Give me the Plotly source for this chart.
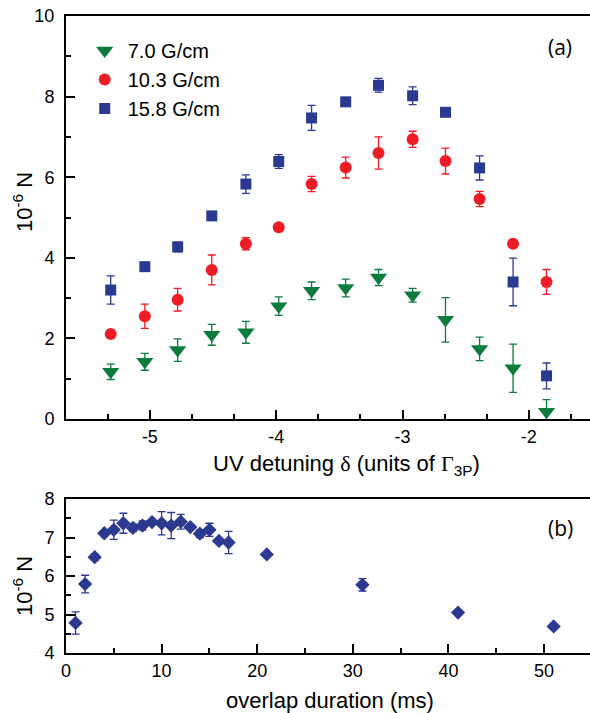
import plotly.graph_objects as go
from plotly.subplots import make_subplots

# ---------- Panel (a) data ----------
det_x = [-5.31, -5.04, -4.78, -4.51, -4.24, -3.98, -3.72, -3.45, -3.19, -2.92, -2.66, -2.39, -2.125, -1.86]

g70_y = [1.17, 1.42, 1.71, 2.09, 2.15, 2.80, 3.18, 3.25, 3.51, 3.07, 2.46, 1.74, 1.26, 0.18]
g70_e = [0.19, 0.21, 0.28, 0.26, 0.27, 0.23, 0.22, 0.22, 0.20, 0.17, 0.55, 0.29, 0.60, 0.30]

g103_y = [2.11, 2.55, 2.96, 3.70, 4.35, 4.76, 5.83, 6.24, 6.60, 6.94, 6.40, 5.46, 4.35, 3.40]
g103_e = [0.0, 0.30, 0.28, 0.37, 0.15, 0.08, 0.19, 0.26, 0.40, 0.20, 0.32, 0.19, 0.0, 0.31]

g158_y = [3.20, 3.78, 4.27, 5.04, 5.83, 6.39, 7.47, 7.87, 8.28, 8.02, 7.61, 6.23, 3.40, 1.07]
g158_e = [0.35, 0.0, 0.12, 0.0, 0.23, 0.17, 0.31, 0.06, 0.17, 0.22, 0.0, 0.30, 0.59, 0.32]

legend_names = ["7.0 G/cm", "10.3 G/cm", "15.8 G/cm"]

det_tickvals = [-5, -4, -3, -2]
det_ticktext = ["-5", "-4", "-3", "-2"]

# ---------- Panel (b) data ----------
ov_x = [1, 2, 3, 4, 5, 6, 7, 8, 9, 10, 11, 12, 13, 14, 15, 16, 17, 21, 31, 41, 51]
ov_y = [4.78, 5.79, 6.49, 7.11, 7.20, 7.37, 7.25, 7.31, 7.40, 7.37, 7.31, 7.41, 7.27, 7.10, 7.20, 6.91, 6.87, 6.56, 5.77, 5.05, 4.69]
ov_e = [0.29, 0.23, 0.08, 0.07, 0.25, 0.26, 0.10, 0.12, 0.05, 0.30, 0.34, 0.19, 0.0, 0.10, 0.17, 0.0, 0.29, 0.0, 0.16, 0.07, 0.05]

GREEN = "#0B7B3E"
RED = "#EE1C25"
BLUE = "#2B3990"
FONT = "Liberation Sans, Arial, sans-serif"

fig = make_subplots(rows=2, cols=1)

def add(x, y, e, color, symbol, size, name, row, showlegend=True):
    fig.add_trace(go.Scatter(
        x=x, y=y, mode="markers", name=name, showlegend=showlegend,
        marker=dict(color=color, symbol=symbol, size=size, line=dict(width=0)),
        error_y=dict(type="data", array=e, visible=True, color=color, thickness=1.3, width=4),
    ), row=row, col=1)

add(det_x, g70_y, g70_e, GREEN, "triangle-down", 15, legend_names[0], 1)
add(det_x, g103_y, g103_e, RED, "circle", 12, legend_names[1], 1)
add(det_x, g158_y, g158_e, BLUE, "square", 11, legend_names[2], 1)
add(ov_x, ov_y, ov_e, BLUE, "diamond", 11, "overlap", 2, showlegend=False)

H = 713.0
def py(p):
    return 1 - p / H

axis_common = dict(showline=True, linecolor="black", linewidth=2, ticks="inside",
                   tickcolor="black", tickwidth=2, ticklen=9, showgrid=False, zeroline=False,
                   automargin=False, tickfont=dict(family=FONT, size=18, color="black"))

fig.update_xaxes(**axis_common)
fig.update_yaxes(**axis_common)

fig.update_layout(
    xaxis=dict(domain=[0, 1], range=[-5.664, -1.516], tickmode="array",
               tickvals=det_tickvals, ticktext=det_ticktext, mirror=True,
               minor=dict(dtick=1/3, tick0=-5, ticks="inside", ticklen=5, tickwidth=2, tickcolor="black")),
    yaxis=dict(domain=[py(419), py(16)], range=[0, 10], dtick=2, tick0=0, ticklabelstandoff=6,
               minor=dict(dtick=1, ticks="inside", ticklen=5, tickwidth=2, tickcolor="black")),
    xaxis2=dict(domain=[0, 1], range=[0, 54.8], dtick=10, tick0=0, mirror=True,
                minor=dict(dtick=5, ticks="inside", ticklen=5, tickwidth=2, tickcolor="black")),
    yaxis2=dict(domain=[py(653), py(499)], range=[4, 8], dtick=1, tick0=4, ticklabelstandoff=6,
                minor=dict(dtick=0.5, ticks="inside", ticklen=5, tickwidth=2, tickcolor="black")),
)

fig.update_layout(
    width=590, height=713,
    margin=dict(l=66, r=0, t=0, b=0),
    plot_bgcolor="white", paper_bgcolor="white",
    font=dict(family=FONT, color="black"),
    legend=dict(x=0.03, y=py(31), xanchor="left", yanchor="top",
                font=dict(family=FONT, size=20, color="black"),
                bgcolor="rgba(0,0,0,0)", itemwidth=36, tracegroupgap=0),
)

def ann(text, xpx, ypx, size, angle=0, family=FONT):
    fig.add_annotation(text=text, xref="paper", yref="paper",
                       x=(xpx - 66) / 524.0, y=py(ypx), xanchor="center", yanchor="middle",
                       showarrow=False, textangle=angle,
                       font=dict(family=family, size=size, color="black"))

ann("UV detuning <span style='font-family:Liberation Serif'>δ</span> (units of "
    "<span style='font-family:Liberation Serif'>Γ</span><sub>3P</sub>)", 346, 465, 22)
ann("overlap duration (ms)", 330, 700, 22)
ann("10<sup>-6</sup> N", 23, 202, 22, angle=-90)
ann("10<sup>-6</sup> N", 23, 586, 22, angle=-90)
ann("(a)", 560, 47, 21, family="Open Sans")
ann("(b)", 560, 528, 21, family="Open Sans")

fig.write_html("out.html", config={"displayModeBar": False},
               post_script="document.body.style.margin='0px';document.body.style.overflow='hidden';")
